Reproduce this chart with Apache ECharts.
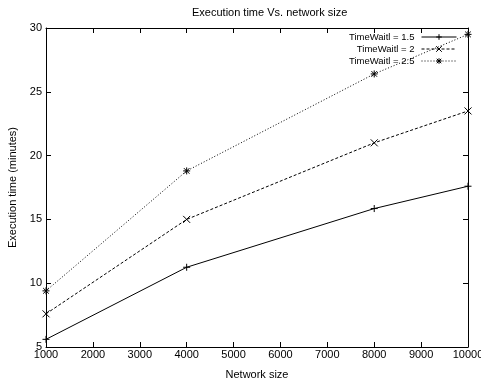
<!DOCTYPE html>
<html>
<head>
<meta charset="utf-8">
<script src="https://cdn.jsdelivr.net/npm/echarts@6/dist/echarts.min.js"></script>
<style>
  html, body { margin: 0; padding: 0; background: #fff; }
  #chart { width: 481px; height: 382px; }
</style>
</head>
<body>
<div id="chart"></div>
<script>
// data
const networkSizes = [1000, 4000, 8000, 10000];
const timeWait15 = [5.6, 11.25, 15.85, 17.6];
const timeWait2 = [7.6, 15.0, 21.0, 23.5];
const timeWait25 = [9.4, 18.8, 26.4, 29.5];
const seriesNames = ['TimeWaitl = 1.5', 'TimeWaitl = 2', 'TimeWaitl = 2.5'];

const FONT = '"Liberation Sans Narrow", "Liberation Sans", sans-serif';

// marker shapes like gnuplot points
const plusPath = 'path://M0,-5 L0,5 M-5,0 L5,0';
const crossPath = 'path://M-4,-4 L4,4 M-4,4 L4,-4';
const starPath = 'path://M0,-5 L0,5 M-5,0 L5,0 M-4,-4 L4,4 M-4,4 L4,-4';

const toPairs = (ys) => networkSizes.map((x, i) => [x, ys[i]]);

const makeSeries = (name, ys, type, symbol) => ({
  name,
  type: 'line',
  data: toPairs(ys),
  symbol,
  symbolSize: 7,
  showSymbol: true,
  itemStyle: { color: '#000', borderColor: '#000', borderWidth: 1 },
  lineStyle: { color: '#000', width: 1, type },
  emphasis: { disabled: true },
  animation: false,
  z: 3,
});

const legendAt = (name, top) => ({
  data: [{ name }],
  right: 24,
  top,
  align: 'right',
  itemWidth: 35,
  itemHeight: 7,
  itemGap: 4,
  padding: 0,
  lineStyle: { width: 1 },
  itemStyle: { borderWidth: 1 },
  textStyle: { fontFamily: FONT, fontSize: 9.5, color: '#000', padding: [0, 2, 0, 0] },
  selectedMode: false,
});

const myChart = echarts.init(document.getElementById('chart'), null, { renderer: 'canvas' });

const axisCommon = {
  axisLine: { show: true, lineStyle: { color: '#000', width: 1 } },
  axisTick: { show: true, inside: true, length: 5, lineStyle: { color: '#000' } },
  splitLine: { show: false },
};

myChart.setOption({
  backgroundColor: '#fff',
  animation: false,
  title: {
    text: 'Execution time Vs. network size',
    left: 192,
    top: 7,
    padding: 0,
    textStyle: { fontFamily: FONT, fontSize: 11, fontWeight: 'normal', color: '#000' },
  },
  legend: [
    legendAt(seriesNames[0], 32),
    legendAt(seriesNames[1], 44),
    legendAt(seriesNames[2], 56),
  ],
  grid: { left: 46, right: 13, top: 28, bottom: 35, outerBoundsMode: 'none', containLabel: false },
  xAxis: [
    {
      ...axisCommon,
      type: 'value',
      min: 1000,
      max: 10000,
      interval: 1000,
      name: 'Network size',
      nameLocation: 'middle',
      nameGap: 22,
      nameTextStyle: { fontFamily: FONT, fontSize: 11, color: '#000' },
      axisLabel: { fontFamily: FONT, fontSize: 11, color: '#000', margin: 2, formatter: (v) => String(v) },
    },
    {
      ...axisCommon,
      type: 'value',
      position: 'top',
      min: 1000,
      max: 10000,
      interval: 1000,
      axisLabel: { show: false },
    },
  ],
  yAxis: [
    {
      ...axisCommon,
      type: 'value',
      min: 5,
      max: 30,
      interval: 5,
      name: 'Execution time (minutes)',
      nameLocation: 'middle',
      nameGap: 25,
      nameTextStyle: { fontFamily: FONT, fontSize: 11, color: '#000' },
      axisLabel: { fontFamily: FONT, fontSize: 11, color: '#000', margin: 4 },
    },
    {
      ...axisCommon,
      type: 'value',
      position: 'right',
      min: 5,
      max: 30,
      interval: 5,
      axisLabel: { show: false },
    },
  ],
  series: [
    makeSeries(seriesNames[0], timeWait15, 'solid', plusPath),
    makeSeries(seriesNames[1], timeWait2, [3, 2], crossPath),
    makeSeries(seriesNames[2], timeWait25, [1, 2], starPath),
  ],
});
</script>
</body>
</html>
